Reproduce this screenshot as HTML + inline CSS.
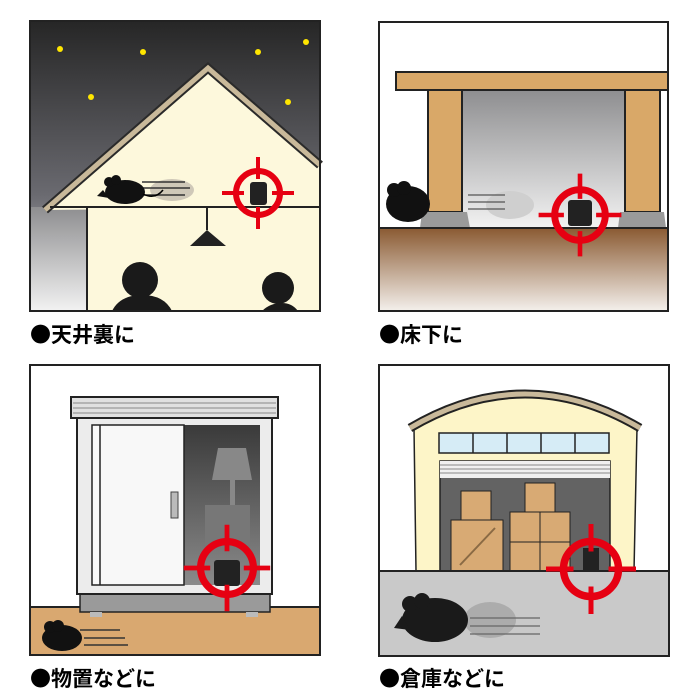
<!DOCTYPE html>
<html><head><meta charset="utf-8"><style>
html,body{margin:0;padding:0;background:#fff;width:700px;height:700px;overflow:hidden}
svg{display:block}
text{font-family:"Liberation Sans","Noto Sans CJK JP",sans-serif;font-weight:bold}
</style></head><body>
<svg width="700" height="700" viewBox="0 0 700 700" xmlns="http://www.w3.org/2000/svg">
<defs>
<linearGradient id="sky" x1="0" y1="0" x2="0" y2="1"><stop offset="0" stop-color="#262626"/><stop offset="0.6" stop-color="#6a6a70"/><stop offset="1" stop-color="#d8d8dc"/></linearGradient>
<linearGradient id="under" x1="0" y1="0" x2="0" y2="1"><stop offset="0" stop-color="#8e8e90"/><stop offset="1" stop-color="#f2f2f2"/></linearGradient>
<linearGradient id="soil" x1="0" y1="0" x2="0" y2="1"><stop offset="0" stop-color="#8a5a32"/><stop offset="1" stop-color="#f4f0ec"/></linearGradient>
<linearGradient id="dark" x1="0" y1="0" x2="0" y2="1"><stop offset="0" stop-color="#3a3a3a"/><stop offset="1" stop-color="#8a8a8a"/></linearGradient>
<g id="tgt"><circle r="22" fill="none" stroke="#e60012" stroke-width="6"/><path d="M-36 0H-14M14 0H36M0-36V-14M0 14V36" stroke="#e60012" stroke-width="4"/></g>
<g id="mouse"><ellipse cx="22" cy="14" rx="20" ry="12"/><circle cx="6" cy="4" r="5"/><circle cx="13" cy="2" r="5"/><path d="M0 12 L-6 18 L6 20Z"/><path d="M40 16 q12 6 20 -4" fill="none" stroke="#000" stroke-width="1.5"/></g>
</defs>

<!-- Panel 1 -->
<rect x="30" y="21" width="290" height="290" fill="url(#sky)"/>
<rect x="30" y="207" width="57" height="104" fill="url(#under)"/>
<polygon points="45,210 208,68 320,165 320,207 45,210" fill="#fdf8dc"/>
<polyline points="45,210 208,68 320,165" fill="none" stroke="#2a2a2a" stroke-width="9"/>
<polyline points="45,210 208,68 320,165" fill="none" stroke="#c9b99a" stroke-width="5"/>
<rect x="87" y="207" width="233" height="104" fill="#fdf8dc"/>
<line x1="50" y1="207" x2="320" y2="207" stroke="#222" stroke-width="2"/>
<line x1="87" y1="207" x2="87" y2="311" stroke="#222" stroke-width="2"/>
<g fill="#ffe600"><circle cx="60" cy="49" r="3"/><circle cx="143" cy="52" r="3"/><circle cx="258" cy="52" r="3"/><circle cx="306" cy="42" r="3"/><circle cx="91" cy="97" r="3"/><circle cx="288" cy="102" r="3"/></g>
<g fill="#cfc8b8" transform="translate(150,180)"><ellipse cx="22" cy="10" rx="22" ry="11"/></g>
<path d="M142 182H185M142 188H190M142 195H185" stroke="#333" stroke-width="1.5"/>
<g transform="translate(103,178)" fill="#111"><use href="#mouse"/></g>
<rect x="250" y="182" width="17" height="23" rx="3" fill="#222"/>
<g transform="translate(258,193)"><use href="#tgt"/></g>
<line x1="207" y1="207" x2="207" y2="230" stroke="#222" stroke-width="2"/>
<polygon points="190,246 207,230 226,246" fill="#222"/>
<g fill="#1a1a1a"><circle cx="140" cy="280" r="18"/><path d="M112 311 q8 -16 30 -16 q22 0 30 16Z"/><circle cx="278" cy="288" r="16"/><path d="M262 311 q8 -8 20 -8 q10 0 16 8Z"/></g>
<rect x="30" y="21" width="290" height="290" fill="none" stroke="#222" stroke-width="2"/>
<text x="30" y="342" font-size="21"><tspan font-family="Noto Sans CJK JP">●</tspan>天井裏に</text>

<!-- Panel 2 -->
<rect x="379" y="22" width="289" height="289" fill="#fff"/>
<rect x="462" y="90" width="163" height="138" fill="url(#under)"/>
<rect x="396" y="72" width="272" height="18" fill="#d9a868" stroke="#222" stroke-width="2"/>
<rect x="428" y="90" width="34" height="122" fill="#d9a868" stroke="#222" stroke-width="2"/>
<rect x="625" y="90" width="35" height="122" fill="#d9a868" stroke="#222" stroke-width="2"/>
<polygon points="420,228 422,212 467,212 470,228" fill="#9a9a9a"/>
<polygon points="618,228 620,212 664,212 666,228" fill="#9a9a9a"/>
<ellipse cx="510" cy="205" rx="24" ry="14" fill="#cfcfcf"/>
<path d="M468 195H505M468 202H505M468 209H505" stroke="#555" stroke-width="1.2"/>
<g transform="translate(386,184)" fill="#111"><ellipse cx="22" cy="20" rx="22" ry="18"/><circle cx="8" cy="6" r="7"/><circle cx="18" cy="4" r="7"/></g>
<rect x="568" y="200" width="24" height="26" rx="3" fill="#222"/>
<rect x="379" y="228" width="289" height="83" fill="url(#soil)"/>
<line x1="379" y1="228" x2="668" y2="228" stroke="#222" stroke-width="2"/>
<g transform="translate(580,215)"><use href="#tgt" transform="scale(1.15)"/></g>
<rect x="379" y="22" width="289" height="289" fill="none" stroke="#222" stroke-width="2"/>
<text x="379" y="342" font-size="21"><tspan font-family="Noto Sans CJK JP">●</tspan>床下に</text>

<!-- Panel 3 -->
<rect x="30" y="365" width="290" height="290" fill="#fff"/>
<rect x="30" y="607" width="290" height="48" fill="#d9a870"/>
<line x1="30" y1="607" x2="320" y2="607" stroke="#222" stroke-width="2"/>
<rect x="80" y="594" width="190" height="18" fill="#9a9a9a" stroke="#222" stroke-width="1.5"/>
<rect x="90" y="612" width="12" height="5" fill="#bbb"/><rect x="246" y="612" width="12" height="5" fill="#bbb"/>
<rect x="77" y="416" width="195" height="178" fill="#ececec" stroke="#222" stroke-width="2"/>
<rect x="71" y="397" width="207" height="21" fill="#e0e0e0" stroke="#222" stroke-width="2"/>
<path d="M73 403H276M73 408H276M73 413H276" stroke="#888" stroke-width="1"/>
<rect x="183" y="425" width="77" height="160" fill="url(#dark)"/>
<polygon points="218,448 246,448 252,480 212,480" fill="#888"/>
<rect x="230" y="480" width="5" height="30" fill="#888"/>
<rect x="205" y="505" width="45" height="40" fill="#777"/>
<rect x="92" y="425" width="92" height="160" fill="#f8f8f8" stroke="#222" stroke-width="1.5"/>
<line x1="100" y1="425" x2="100" y2="585" stroke="#222" stroke-width="1.5"/>
<rect x="171" y="492" width="7" height="26" fill="#bbb" stroke="#444"/>
<rect x="214" y="560" width="26" height="26" rx="3" fill="#222"/>
<g transform="translate(227,568)"><use href="#tgt" transform="scale(1.2)"/></g>
<path d="M80 630H120M84 638H125M84 645H128" stroke="#333" stroke-width="1.5"/>
<g transform="translate(42,624)" fill="#111"><ellipse cx="20" cy="14" rx="20" ry="13"/><circle cx="8" cy="3" r="6"/><circle cx="16" cy="2" r="6"/></g>
<rect x="30" y="365" width="290" height="290" fill="none" stroke="#222" stroke-width="2"/>
<text x="30" y="686" font-size="21"><tspan font-family="Noto Sans CJK JP">●</tspan>物置などに</text>

<!-- Panel 4 -->
<rect x="379" y="365" width="290" height="291" fill="#fff"/>
<path d="M414 428 Q525 355 637 428 L634 571 L416 571Z" fill="#fdf5c8" stroke="#222" stroke-width="1.5"/>
<path d="M410 428 Q525 360 640 428" fill="none" stroke="#222" stroke-width="9"/>
<path d="M410 428 Q525 360 640 428" fill="none" stroke="#c9b99a" stroke-width="5"/>
<rect x="439" y="433" width="170" height="20" fill="#d6ecf6" stroke="#222" stroke-width="1.5"/>
<path d="M473 433V453M507 433V453M541 433V453M575 433V453" stroke="#222" stroke-width="1.5"/>
<rect x="440" y="461" width="170" height="110" fill="#636363" stroke="#222" stroke-width="1.5"/>
<rect x="440" y="461" width="170" height="17" fill="#f0f0f0"/>
<path d="M440 465H610M440 469H610M440 473H610" stroke="#888" stroke-width="1"/>
<g fill="#d8aa74" stroke="#222" stroke-width="1"><rect x="461" y="491" width="30" height="29"/><rect x="451" y="520" width="52" height="51"/><rect x="525" y="483" width="30" height="29"/><rect x="510" y="512" width="30" height="30"/><rect x="540" y="512" width="30" height="30"/><rect x="510" y="542" width="30" height="29"/><rect x="540" y="542" width="30" height="29"/></g>
<path d="M460 565 L495 528" stroke="#8a6a44" stroke-width="2"/>
<rect x="583" y="548" width="16" height="23" fill="#222"/>
<rect x="379" y="571" width="290" height="85" fill="#c9c9c9"/>
<line x1="379" y1="571" x2="669" y2="571" stroke="#222" stroke-width="2"/>
<g transform="translate(591,569)"><use href="#tgt" transform="scale(1.25)"/></g>
<ellipse cx="490" cy="620" rx="26" ry="18" fill="#9a9a9a" opacity="0.6"/>
<path d="M470 618H540M470 626H540M470 634H540" stroke="#666" stroke-width="1.2"/>
<g transform="translate(400,598)" fill="#1a1a1a"><ellipse cx="35" cy="22" rx="33" ry="22"/><circle cx="10" cy="6" r="8"/><circle cx="22" cy="3" r="8"/><path d="M2 18 L-6 30 L10 32Z"/></g>
<rect x="379" y="365" width="290" height="291" fill="none" stroke="#222" stroke-width="2"/>
<text x="379" y="686" font-size="21"><tspan font-family="Noto Sans CJK JP">●</tspan>倉庫などに</text>
</svg>
</body></html>
